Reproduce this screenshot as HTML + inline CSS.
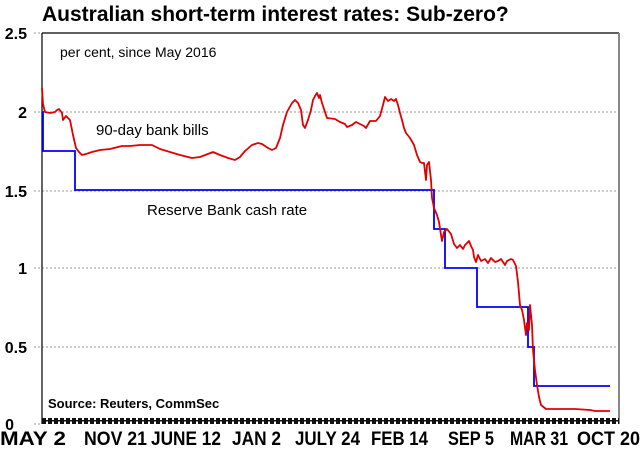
<!DOCTYPE html>
<html><head><meta charset="utf-8"><style>
html,body{margin:0;padding:0;background:#fff;}
svg{display:block;font-family:"Liberation Sans",Arial,sans-serif;}
</style></head><body>
<svg width="642" height="459" viewBox="0 0 642 459" xmlns="http://www.w3.org/2000/svg">
<defs>
<pattern id="hatch" width="6" height="7" patternUnits="userSpaceOnUse">
<rect x="0" y="0" width="4" height="7" fill="#111"/>
</pattern>
</defs>
<rect width="642" height="459" fill="#fff"/>
<text x="42" y="21" font-size="21" font-weight="bold" fill="#000">Australian short-term interest rates: Sub-zero?</text>
<g stroke="#999" stroke-dasharray="2,2" stroke-width="1">
<line x1="34" y1="33" x2="619" y2="33"/>
<line x1="34" y1="112" x2="619" y2="112"/>
<line x1="34" y1="191" x2="619" y2="191"/>
<line x1="34" y1="268" x2="619" y2="268"/>
<line x1="34" y1="347" x2="619" y2="347"/>
<line x1="34" y1="424" x2="42" y2="424"/>
</g>
<line x1="42" y1="33" x2="619" y2="33" stroke="#000" stroke-width="1.2"/>
<line x1="42" y1="33" x2="42" y2="424" stroke="#000" stroke-width="1.2"/>
<line x1="619" y1="33" x2="619" y2="424" stroke="#888" stroke-width="2"/>
<rect x="42" y="418" width="577" height="6" fill="url(#hatch)"/>
<rect x="42" y="420" width="577" height="1.5" fill="#111"/>
<g font-size="16" font-weight="bold" text-anchor="end">
<text x="27" y="39">2.5</text>
<text x="27" y="118">2</text>
<text x="27" y="197">1.5</text>
<text x="27" y="274">1</text>
<text x="27" y="353">0.5</text>
<text x="14" y="430">0</text>
</g>
<g font-size="19" font-weight="bold">
<text x="0" y="445" textLength="66" lengthAdjust="spacingAndGlyphs">MAY 2</text>
<text x="84" y="445" textLength="63" lengthAdjust="spacingAndGlyphs">NOV 21</text>
<text x="151" y="445" textLength="70" lengthAdjust="spacingAndGlyphs">JUNE 12</text>
<text x="232" y="445" textLength="49" lengthAdjust="spacingAndGlyphs">JAN 2</text>
<text x="295" y="445" textLength="65" lengthAdjust="spacingAndGlyphs">JULY 24</text>
<text x="371" y="445" textLength="57" lengthAdjust="spacingAndGlyphs">FEB 14</text>
<text x="448" y="445" textLength="46" lengthAdjust="spacingAndGlyphs">SEP 5</text>
<text x="510" y="445" textLength="58" lengthAdjust="spacingAndGlyphs">MAR 31</text>
<text x="577" y="445" textLength="63" lengthAdjust="spacingAndGlyphs">OCT 20</text>
</g>
<text x="60" y="57" font-size="14">per cent, since May 2016</text>
<text x="96" y="135" font-size="15">90-day bank bills</text>
<text x="147" y="215" font-size="15">Reserve Bank cash rate</text>
<text x="48" y="408" font-size="13" font-weight="bold">Source: Reuters, CommSec</text>
<polyline fill="none" stroke="#0000ff" stroke-width="1.8" points="42,112 43,112 43,151 75,151 75,190 434,190 434,229 445,229 445,268 477,268 477,307 528,307 528,347 534,347 534,386 610,386"/>
<polyline fill="none" stroke="#e00000" stroke-width="1.8" stroke-linejoin="round" points="42,88 43,104 45,112 50,113 55,112 57,110 59,109 62,113 63,120 66,116 70,120 73,135 76,148 79,152 82,155 86,154 92,152 100,150 110,149 122,146 130,146 140,145 152,145 160,149 170,152 180,155 192,158 200,157 213,152 220,155 228,158 235,160 240,157 245,151 252,145 258,143 262,144 268,148 272,150 276,148 280,138 283,125 287,112 292,103 295,100 298,103 301,110 303,125 305,128 308,120 311,110 313,100 315,96 317,93 319,98 320,95 322,103 325,112 327,118 335,119 340,122 345,124 347,127 352,125 356,122 360,124 364,126 366,128 370,121 376,121 380,116 383,105 385,97 388,101 391,99 394,101 396,99 398,105 400,113 402,120 404,128 406,133 410,138 414,145 417,155 420,162 422,163 424,163 426,180 427,165 429,162 431,180 432,198 434,208 437,215 439,222 441,235 442,241 444,232 447,229 451,234 454,244 457,248 460,245 463,249 465,245 469,241 471,246 473,250 474,257 476,262 478,255 481,261 485,259 488,263 491,258 495,262 498,261 501,259 503,262 505,265 507,261 511,259 513,260 516,266 518,282 520,305 522,310 524,320 526,335 527,323 529,330 530,305 532,325 533,350 535,370 537,385 539,397 541,405 546,409 555,409 565,409 575,409 590,410 595,411 610,411"/>
</svg>
</body></html>
